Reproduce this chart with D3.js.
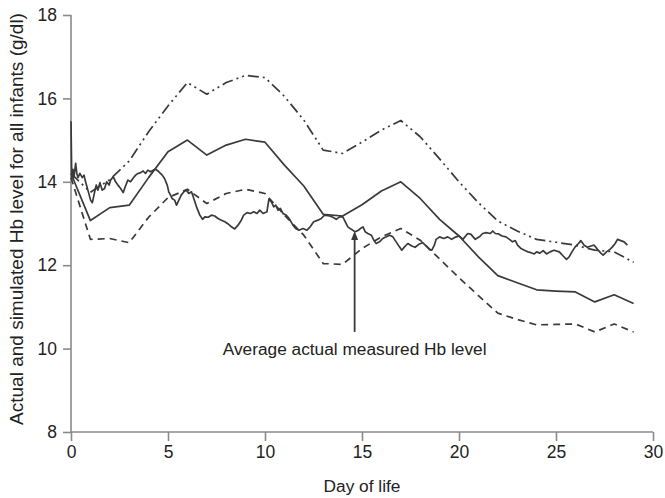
<!DOCTYPE html>
<html>
<head>
<meta charset="utf-8">
<script src="https://cdn.jsdelivr.net/npm/d3@7"></script>
<style>
html,body{margin:0;padding:0;background:#fff;}
svg{display:block;}
text{font-family:"Liberation Sans",Arial,Helvetica,sans-serif;fill:#222;}
</style>
</head>
<body>
<svg id="chart" width="665" height="498"></svg>
<script>
// ---- Data ----
const simDays = [0,1,2,3,4,5,6,7,8,9,10,11,12,13,14,15,16,17,18,19,20,21,22,23,24,25,26,27,28,29];
const simMean = [14.2,13.07,13.38,13.44,14.1,14.72,15.0,14.64,14.88,15.02,14.95,14.4,13.9,13.22,13.18,13.45,13.78,14.0,13.6,13.1,12.7,12.2,11.75,11.58,11.41,11.38,11.36,11.12,11.29,11.08];
const simLow  = [14.1,12.62,12.64,12.54,13.15,13.62,13.82,13.48,13.72,13.82,13.72,13.2,12.72,12.04,12.02,12.4,12.68,12.88,12.6,12.15,11.7,11.27,10.85,10.7,10.57,10.58,10.59,10.4,10.59,10.4];
const simHigh = [14.2,13.75,14.05,14.5,15.2,15.82,16.38,16.1,16.38,16.55,16.5,16.05,15.48,14.76,14.68,14.95,15.24,15.47,15.08,14.55,14.0,13.5,13.06,12.82,12.62,12.55,12.48,12.36,12.32,12.07];

const actualDays = [0,0.04,0.1,0.15,0.24,0.3,0.36,0.46,0.58,0.67,0.75,0.87,1.01,1.1,1.22,1.3,1.39,1.49,1.61,1.73,1.84,1.96,2.04,2.18,2.3,2.42,2.56,2.69,2.81,2.93,3.07,3.19,3.33,3.45,3.59,3.72,3.84,3.96,4.1,4.24,4.36,4.53,4.7,4.82,4.96,5.04,5.13,5.21,5.34,5.44,5.56,5.68,5.82,5.95,6.07,6.21,6.3,6.47,6.64,6.78,6.9,7.07,7.24,7.41,7.58,7.75,7.93,8.1,8.27,8.44,8.61,8.78,8.9,9.08,9.25,9.42,9.59,9.73,9.9,10.1,10.2,10.33,10.45,10.55,10.67,10.79,10.93,11.1,11.27,11.44,11.58,11.75,11.96,12.16,12.33,12.51,12.73,12.9,13.07,13.33,13.5,13.67,13.84,14.01,14.14,14.27,14.45,14.65,14.79,14.92,15.05,15.17,15.3,15.48,15.61,15.73,15.9,16.07,16.25,16.42,16.59,16.76,16.93,17.05,17.19,17.36,17.57,17.74,17.96,18.13,18.31,18.48,18.6,18.73,18.82,19.0,19.21,19.42,19.62,19.85,20.02,20.2,20.45,20.62,20.84,21.05,21.22,21.4,21.6,21.74,21.87,22.04,22.22,22.42,22.6,22.76,22.9,23.02,23.2,23.37,23.54,23.71,23.88,24.0,24.17,24.34,24.51,24.69,24.9,25.17,25.37,25.54,25.68,25.82,25.99,26.16,26.28,26.45,26.62,26.8,26.97,27.14,27.31,27.43,27.6,27.78,27.91,28.05,28.17,28.34,28.51,28.68];
const actualHb = [15.45,14.05,14.3,14.1,14.44,14.2,14.1,14.2,14.1,14.16,14.0,13.8,13.56,13.5,13.76,13.92,13.8,13.98,13.8,13.84,14.0,13.92,14.04,14.12,14.0,13.92,13.84,13.74,13.9,14.04,14.0,14.08,14.16,14.2,14.22,14.26,14.2,14.28,14.24,14.28,14.3,14.24,14.16,14.08,13.92,13.76,13.68,13.6,13.56,13.44,13.56,13.68,13.76,13.8,13.72,13.76,13.64,13.4,13.2,13.1,13.16,13.15,13.2,13.18,13.12,13.08,13.04,12.99,12.92,12.87,12.96,13.08,13.2,13.26,13.24,13.28,13.24,13.32,13.24,13.28,13.58,13.52,13.4,13.44,13.32,13.36,13.24,13.2,13.1,12.96,12.88,12.84,12.88,12.84,12.92,13.04,13.08,13.12,13.2,13.18,13.15,13.1,13.16,13.16,13.04,12.92,12.86,12.8,12.83,12.88,12.92,12.8,12.76,12.72,12.6,12.52,12.56,12.64,12.68,12.72,12.68,12.56,12.44,12.36,12.44,12.52,12.46,12.43,12.51,12.54,12.46,12.38,12.36,12.48,12.62,12.68,12.64,12.68,12.62,12.68,12.7,12.62,12.76,12.74,12.62,12.68,12.76,12.78,12.76,12.82,12.76,12.75,12.7,12.68,12.62,12.56,12.59,12.48,12.4,12.36,12.32,12.3,12.27,12.32,12.29,12.35,12.27,12.32,12.36,12.32,12.22,12.14,12.2,12.32,12.44,12.52,12.59,12.48,12.43,12.46,12.48,12.38,12.29,12.24,12.32,12.38,12.44,12.52,12.62,12.59,12.56,12.48];

const xTicks = [0,5,10,15,20,25,30];
const yTicks = [8,10,12,14,16,18];
const arrowDay = 14.62, arrowFrom = 10.4, arrowTo = 12.82;
const annotation = "Average actual measured Hb level";
const xLabel = "Day of life";
const yLabel = "Actual and simulated Hb level for all infants (g/dl)";

// ---- Layout ----
const svg = d3.select("#chart");
const x = d3.scaleLinear().domain([0,30]).range([71,653]);
const y = d3.scaleLinear().domain([8,18]).range([432,15]);
const axisColor = "#8a8a8a";
const lineColor = "#3a3a3a";
const fontSize = 17;

// axes
const xAxis = svg.append("g").attr("transform","translate(0,432)")
  .call(d3.axisBottom(x).tickValues(xTicks).tickSize(9).tickPadding(5).tickFormat(d3.format("d")));
const yAxis = svg.append("g").attr("transform","translate(71,0)")
  .call(d3.axisLeft(y).tickValues(yTicks).tickSize(8).tickPadding(6).tickFormat(d3.format("d")));
[xAxis,yAxis].forEach(g=>{
  g.select(".domain").attr("stroke",axisColor).attr("stroke-width",1.6);
  g.selectAll(".tick line").attr("stroke",axisColor).attr("stroke-width",1.6);
  g.selectAll(".tick text").attr("fill","#222").style("font-size","17.5px")
   .style("font-family",'"Liberation Sans",Arial,sans-serif');
});
xAxis.select(".domain").attr("d",`M${x(0)},0H${x(30)}`);
yAxis.select(".domain").attr("d",`M0,${y(18)}V${y(8)}`);

const line = d3.line().x(d=>x(d[0])).y(d=>y(d[1]));

const series = [
  {vals: simHigh, dash: "11,4,2,4,2,4"},
  {vals: simLow, dash: "7,5"},
  {vals: simMean, dash: null}
];
series.forEach(s=>{
  svg.append("path")
    .attr("d", line(simDays.map((d,i)=>[d,s.vals[i]])))
    .attr("fill","none").attr("stroke",lineColor).attr("stroke-width",1.7)
    .attr("stroke-linejoin","round")
    .attr("stroke-dasharray", s.dash);
});
svg.append("path")
  .attr("d", line(actualDays.map((d,i)=>[d,actualHb[i]])))
  .attr("fill","none").attr("stroke",lineColor).attr("stroke-width",1.7)
  .attr("stroke-linejoin","round");

// arrow
const ax = x(arrowDay);
svg.append("line").attr("x1",ax).attr("x2",ax)
  .attr("y1",y(arrowFrom)).attr("y2",y(arrowTo)+6)
  .attr("stroke",lineColor).attr("stroke-width",1.8);
svg.append("path")
  .attr("d",`M${ax},${y(arrowTo)}L${ax-3.5},${y(arrowTo)+9}L${ax+3.5},${y(arrowTo)+9}Z`)
  .attr("fill",lineColor);

svg.append("text").attr("x",ax).attr("y",y(arrowFrom)+23)
  .attr("text-anchor","middle").style("font-size","17.3px").text(annotation);

svg.append("text").attr("x",x(15)).attr("y",492)
  .attr("text-anchor","middle").style("font-size","17.3px").text(xLabel);

svg.append("text")
  .attr("transform",`translate(23,219) rotate(-90)`)
  .attr("text-anchor","middle").style("font-size","19px").text(yLabel);
</script>
</body>
</html>
